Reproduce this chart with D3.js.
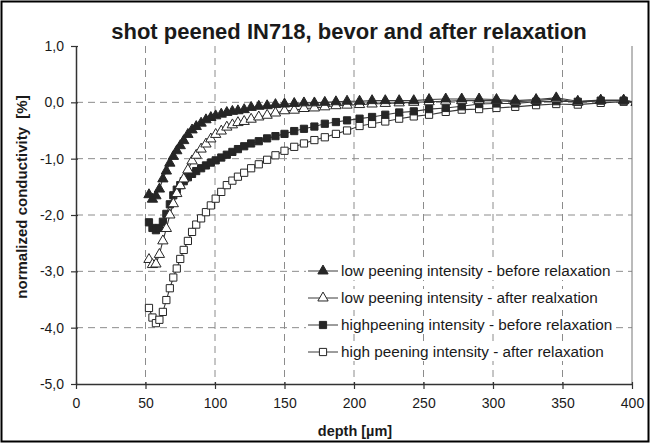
<!DOCTYPE html>
<html>
<head>
<meta charset="utf-8">
<script src="https://cdn.jsdelivr.net/npm/d3@7"></script>
<style>
  body { margin: 0; background: #fff; }
  text { font-family: "Liberation Sans", Arial, sans-serif; fill: #1a1a1a; }
</style>
</head>
<body>
<svg id="chart" width="650" height="443"></svg>
<script>
// depth in µm, shared by all four series
const depth = [52.5, 55, 57.5, 60, 62.5, 65, 67.5, 70, 72.5, 75, 77.5, 80.5, 83.5, 86.5, 90, 93.5, 97, 100.5,
  104.5, 108.5, 112.5, 116.5, 121, 126, 131.5, 137.5, 143.5, 150, 157, 164, 171.5, 179, 187, 195, 204, 213,
  222.5, 232.5, 243, 254, 266, 277.5, 290, 302.5, 316, 331, 345.5, 361, 377.5, 394, 403];

const lowBefore = [-1.64, -1.72, -1.66, -1.54, -1.36, -1.22, -1.08, -0.96, -0.86, -0.77, -0.68, -0.57, -0.49, -0.43,
  -0.37, -0.31, -0.27, -0.24, -0.21, -0.18, -0.16, -0.15, -0.13, -0.09, -0.07, -0.06, -0.04, -0.03, -0.02, -0.01,
  -0.01, 0.0, 0.01, 0.02, 0.02, 0.03, 0.03, 0.03, 0.03, 0.05, 0.06, 0.06, 0.06, 0.05, 0.03, 0.05, 0.08, 0.02, 0.04,
  0.04, 0.0];

const lowAfter = [-2.79, -2.88, -2.87, -2.70, -2.46, -2.24, -2.00, -1.80, -1.62, -1.48, -1.36, -1.20, -1.04, -0.94,
  -0.83, -0.74, -0.65, -0.57, -0.51, -0.44, -0.40, -0.36, -0.34, -0.30, -0.26, -0.23, -0.19, -0.15, -0.14, -0.11,
  -0.10, -0.08, -0.06, -0.05, -0.04, -0.03, -0.02, -0.01, 0.0, 0.01, 0.02, 0.03, 0.03, 0.03, 0.01, 0.03, 0.06, 0.0,
  0.03, 0.03, 0.0];

const highBefore = [-2.13, -2.23, -2.27, -2.23, -2.12, -1.98, -1.81, -1.65, -1.55, -1.47, -1.40, -1.33, -1.27, -1.22,
  -1.17, -1.12, -1.07, -1.03, -0.98, -0.93, -0.88, -0.83, -0.78, -0.73, -0.69, -0.64, -0.60, -0.56, -0.51, -0.47,
  -0.43, -0.38, -0.35, -0.32, -0.29, -0.26, -0.22, -0.18, -0.16, -0.12, -0.10, -0.07, -0.03, -0.02, -0.02, 0.01,
  0.02, 0.01, 0.03, 0.03, 0.0];

const highAfter = [-3.65, -3.82, -3.92, -3.86, -3.72, -3.51, -3.30, -3.11, -2.95, -2.78, -2.62, -2.46, -2.30, -2.17,
  -2.06, -1.95, -1.83, -1.71, -1.59, -1.47, -1.39, -1.32, -1.25, -1.17, -1.10, -1.02, -0.94, -0.86, -0.79, -0.73,
  -0.67, -0.62, -0.56, -0.50, -0.42, -0.38, -0.34, -0.29, -0.25, -0.22, -0.17, -0.13, -0.12, -0.10, -0.08, -0.05,
  -0.03, -0.04, -0.01, 0.01, 0.0];

const seriesNames = [
  "low peening intensity - before relaxation",
  "low peening intensity - after realxation",
  "highpeening intensity - before relaxation",
  "high peening intensity - after relaxation"
];
const seriesValues = [lowBefore, lowAfter, highBefore, highAfter];
const seriesMarkers = [
  { shape: d3.symbolTriangle, filled: true },
  { shape: d3.symbolTriangle, filled: false },
  { shape: d3.symbolSquare, filled: true },
  { shape: d3.symbolSquare, filled: false }
];

const xTicks = [0, 50, 100, 150, 200, 250, 300, 350, 400];
const yTicks = [1, 0, -1, -2, -3, -4, -5];

function init() {
  chart();
}

function markSize(m) {
  return m.shape === d3.symbolSquare ? 52 : 46;
}

function chart() {
  const svg = d3.select("#chart");
  const left = 76, right = 632, top = 46, bottom = 384;
  const ink = "#333";

  const xScale = d3.scaleLinear().domain([0, 400]).range([left, right]);
  const yScale = d3.scaleLinear().domain([-5, 1]).range([bottom, top]);
  const fmt = d => d.toFixed(1).replace(".", ",");

  // outer frame
  svg.append("rect")
    .attr("x", 1.5).attr("y", 1.5)
    .attr("width", 647).attr("height", 440)
    .attr("fill", "#fff").attr("stroke", "#000").attr("stroke-width", 2);

  // dashed grid
  svg.append("g").selectAll("line")
    .data(yTicks.filter(d => d > -5 && d < 1))
    .join("line")
    .attr("x1", left).attr("x2", right)
    .attr("y1", d => yScale(d)).attr("y2", d => yScale(d))
    .attr("stroke", "#8c8c8c").attr("stroke-dasharray", "7,5");

  svg.append("g").selectAll("line")
    .data(xTicks.filter(d => d > 0 && d < 400))
    .join("line")
    .attr("x1", d => xScale(d)).attr("x2", d => xScale(d))
    .attr("y1", top).attr("y2", bottom)
    .attr("stroke", "#8c8c8c").attr("stroke-dasharray", "7,5");

  // right border of the plot area
  svg.append("line")
    .attr("x1", right).attr("x2", right).attr("y1", top).attr("y2", bottom)
    .attr("stroke", "#777");

  // clip for the series
  svg.append("clipPath").attr("id", "plotClip")
    .append("rect").attr("x", left).attr("y", top - 10)
    .attr("width", right - left).attr("height", bottom - top + 10);

  const plot = svg.append("g").attr("clip-path", "url(#plotClip)");
  const line = d3.line().x(d => xScale(d[0])).y(d => yScale(d[1]));

  // draw the last series first so the filled triangles end on top
  for (let s = seriesValues.length - 1; s >= 0; s--) {
    const pts = depth.map((x, i) => [x, seriesValues[s][i]]);
    const m = seriesMarkers[s];
    const g = plot.append("g");
    g.append("path")
      .datum(pts)
      .attr("d", line)
      .attr("fill", "none")
      .attr("stroke", "#3a3a3a")
      .attr("stroke-width", 1.1);
    g.selectAll("path.mark")
      .data(pts)
      .join("path")
      .attr("class", "mark")
      .attr("transform", d => "translate(" + xScale(d[0]) + "," + yScale(d[1]) + ")")
      .attr("d", d3.symbol().type(m.shape).size(markSize(m)))
      .attr("fill", m.filled ? "#262626" : "#fff")
      .attr("stroke", "#262626")
      .attr("stroke-width", 1);
  }

  // axes
  const yAxis = svg.append("g")
    .attr("transform", "translate(" + left + ",0)")
    .call(d3.axisLeft(yScale).tickValues(yTicks).tickFormat(fmt).tickSizeInner(5).tickSizeOuter(0).tickPadding(7));
  const xAxis = svg.append("g")
    .attr("transform", "translate(0," + bottom + ")")
    .call(d3.axisBottom(xScale).tickValues(xTicks).tickSizeInner(5).tickSizeOuter(0).tickPadding(9));

  [yAxis, xAxis].forEach(ax => {
    ax.select(".domain").attr("stroke", ink).attr("stroke-width", 1.5);
    ax.selectAll(".tick line").attr("stroke", ink).attr("stroke-width", 1.2);
    ax.selectAll(".tick text").attr("font-size", "14px").attr("fill", "#1a1a1a")
      .attr("font-family", "Liberation Sans, Arial, sans-serif");
  });
  yAxis.selectAll(".tick line").attr("x2", -5).attr("x1", 2);
  xAxis.selectAll(".tick line").attr("y1", -2).attr("y2", 5);

  // title and axis titles
  svg.append("text")
    .attr("x", 349).attr("y", 39)
    .attr("text-anchor", "middle")
    .attr("font-size", "22px").attr("font-weight", "bold")
    .text("shot peened IN718, bevor and after relaxation");

  svg.append("text")
    .attr("transform", "translate(27,197) rotate(-90)")
    .attr("text-anchor", "middle")
    .attr("font-size", "15px").attr("font-weight", "bold")
    .style("white-space", "pre")
    .text("normalized conductivity  [%]");

  svg.append("text")
    .attr("x", 355).attr("y", 436)
    .attr("text-anchor", "middle")
    .attr("font-size", "14.5px").attr("font-weight", "bold")
    .text("depth [µm]");

  // legend
  const legendY = d3.scalePoint().domain(seriesNames).range([271, 352]);
  const legend = svg.append("g");
  seriesNames.forEach((name, i) => {
    const cy = legendY(name);
    const row = legend.append("g");
    const label = row.append("text")
      .attr("x", 341).attr("y", cy + 5)
      .attr("font-size", "15.3px")
      .text(name);
    const w = label.node().getComputedTextLength();
    row.insert("rect", "text")
      .attr("x", 306).attr("y", cy - 9)
      .attr("width", w + 38).attr("height", 18)
      .attr("fill", "#fff");
    row.append("line")
      .attr("x1", 308).attr("x2", 338).attr("y1", cy).attr("y2", cy)
      .attr("stroke", "#3a3a3a");
    const m = seriesMarkers[i];
    row.append("path")
      .attr("transform", "translate(323," + cy + ")")
      .attr("d", d3.symbol().type(m.shape).size(markSize(m)))
      .attr("fill", m.filled ? "#262626" : "#fff")
      .attr("stroke", "#262626")
      .attr("stroke-width", 1);
  });
}

window.onload = init;
</script>
</body>
</html>
